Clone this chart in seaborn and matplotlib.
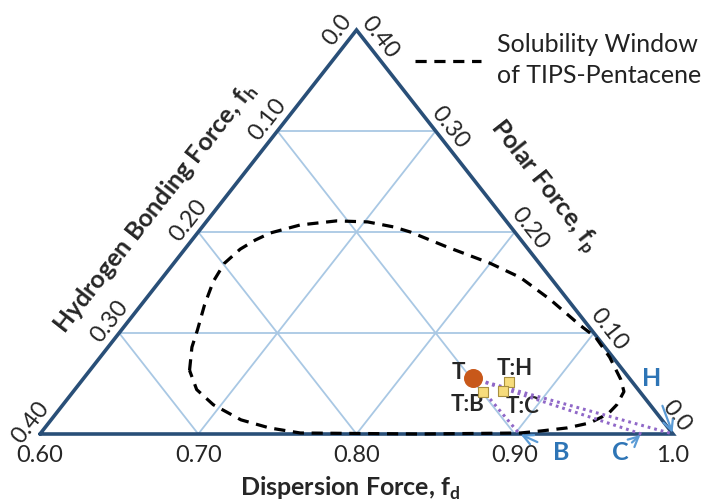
import numpy as np
import pandas as pd
import matplotlib.pyplot as plt
import seaborn as sns
from matplotlib.lines import Line2D

sns.set_theme(style="white")
plt.rcParams['font.family'] = ['Lato', 'DejaVu Sans']
plt.rcParams['mathtext.fontset'] = 'custom'
plt.rcParams['mathtext.rm'] = 'Lato'
plt.rcParams['mathtext.bf'] = 'Lato:bold'

# solubility window of TIPS-pentacene (fd, fp)
window_fd = [0.663, 0.653, 0.648, 0.640, 0.634, 0.632, 0.635, 0.640, 0.646, 0.661,
             0.682, 0.702, 0.721, 0.734, 0.765, 0.800, 0.826, 0.856, 0.887, 0.903,
             0.922, 0.940, 0.948, 0.950, 0.949, 0.942, 0.930, 0.915, 0.903, 0.840,
             0.764, 0.742, 0.720, 0.695, 0.677]
window_fp = [0.063, 0.086, 0.103, 0.128, 0.151, 0.169, 0.183, 0.192, 0.199, 0.207,
             0.211, 0.210, 0.205, 0.200, 0.185, 0.169, 0.155, 0.133, 0.108, 0.096,
             0.076, 0.054, 0.042, 0.029, 0.020, 0.011, 0.006, 0.003, 0.001, 0.000,
             0.001, 0.006, 0.014, 0.029, 0.044]

# tetralin (T)
t_fd, t_fp = 0.846, 0.055
# blends
blend_names = ["T:H", "T:C", "T:B"]
blend_fd = [0.871, 0.871, 0.859]
blend_fp = [0.051, 0.043, 0.042]
# second solvents
solvent_names = ["H", "C", "B"]
solvent_fd = [1.0, 0.98, 0.903]
solvent_fp = [0.0, 0.0, 0.0]

grid_vals = [0.1, 0.2, 0.3]
fd_ticks = ["0.60", "0.70", "0.80", "0.90", "1.0"]
fh_ticks = ["0.0", "0.10", "0.20", "0.30", "0.40"]
fp_ticks = ["0.40", "0.30", "0.20", "0.10", "0.0"]

edge_color = "#294f78"
grid_color = "#a9c8e4"
arrow_color = "#5b9bd5"
label_blue = "#2e75b6"


def to_xy(fd, fp):
    fd = np.asarray(fd, dtype=float)
    fp = np.asarray(fp, dtype=float)
    return (fd - 0.6) / 0.4 + 0.5 * fp / 0.4, fp / 0.4


fig = plt.figure(figsize=(7.01, 5.03), dpi=100)
ax = fig.add_axes([40 / 701, 69 / 503, 633 / 701, 404 / 503])
ax.set_xlim(0, 1)
ax.set_ylim(0, 1)
ax.axis('off')

# grid lines
for g in grid_vals:
    # constant fp
    x, y = to_xy([0.6, 1 - g], [g, g])
    ax.plot(x, y, color=grid_color, lw=1.3, zorder=1)
    # constant fd
    fd = 0.6 + g
    x, y = to_xy([fd, fd], [0, 1 - fd])
    ax.plot(x, y, color=grid_color, lw=1.3, zorder=1)
    # constant fh
    x, y = to_xy([1 - g, 0.6], [0, 0.4 - g])
    ax.plot(x, y, color=grid_color, lw=1.3, zorder=1)

# triangle outline
x, y = to_xy([0.6, 1.0, 0.6, 0.6], [0.0, 0.0, 0.4, 0.0])
ax.plot(x, y, color=edge_color, lw=2.6, solid_joinstyle='miter', clip_on=False, zorder=2)

# solubility window
wx, wy = to_xy(window_fd + window_fd[:1], window_fp + window_fp[:1])
sns.lineplot(x=wx, y=wy, sort=False, estimator=None, color='black', lw=2.3,
             linestyle=(0, (3.5, 2.4)), ax=ax, clip_on=False, zorder=3)

# tie lines tetralin -> solvents
tx, ty = to_xy(t_fd, t_fp)
for fd, fp in zip(solvent_fd, solvent_fp):
    sx, sy = to_xy(fd, fp)
    ax.plot([tx, sx], [ty, sy], color="#9068c8", lw=2.2, linestyle=(0, (0.9, 1.3)),
            clip_on=False, zorder=4)

bx, by = to_xy(blend_fd, blend_fp)
sns.scatterplot(x=bx, y=by, marker='s', s=60, color="#f6dc7c", edgecolor="#a89040",
                linewidth=0.8, ax=ax, zorder=5)
sns.scatterplot(x=[float(tx)], y=[float(ty)], marker='o', s=160, color="#c8581a",
                edgecolor="#c8581a", ax=ax, zorder=6)

ax.annotate("T", (tx, ty), xytext=(-14, 6), textcoords='offset pixels',
            ha='center', va='center', fontsize=16, fontweight='bold')
blend_offsets = [(5, 14), (20, -16), (-16, -13)]
for name, x, y, off in zip(blend_names, bx, by, blend_offsets):
    ax.annotate(name, (x, y), xytext=off, textcoords='offset pixels',
                ha='center', va='center', fontsize=16, fontweight='bold')

# solvent arrows
solvent_offsets = [(-21, 56), (-21, -19), (42, -19)]
for name, fd, fp, off in zip(solvent_names, solvent_fd, solvent_fp, solvent_offsets):
    sx, sy = to_xy(fd, fp)
    ax.annotate(name, (sx, sy), xytext=off, textcoords='offset pixels',
                ha='center', va='center', fontsize=18, fontweight='bold', color=label_blue,
                arrowprops=dict(arrowstyle='->', color=arrow_color, lw=1.6,
                                shrinkA=10, shrinkB=1),
                zorder=7)

# tick labels
left_dir = np.array([0.618, 0.786])
left_out = np.array([-0.786, 0.618])
right_dir = np.array([0.618, -0.786])
right_out = np.array([0.786, 0.618])

for i, lab in enumerate(fd_ticks):
    fd = 0.6 + 0.1 * i
    x, y = to_xy(fd, 0)
    ax.annotate(lab, (x, y), xytext=(0, -22), textcoords='offset pixels',
                ha='center', va='center', fontsize=17)

for i, lab in enumerate(fh_ticks):
    fh = 0.1 * i
    x, y = to_xy(0.6, 0.4 - fh)
    along = -12 if i == 0 else 3
    off = 15 * left_out + along * left_dir
    ax.annotate(lab, (x, y), xytext=tuple(off), textcoords='offset pixels',
                ha='center', va='center', fontsize=17, rotation=51.9,
                rotation_mode='anchor')

for i, lab in enumerate(fp_ticks):
    fp = 0.4 - 0.1 * i
    x, y = to_xy(1 - fp, fp)
    along = 20 if i == 0 else (-12 if i == 4 else 6)
    off = 14 * right_out + along * right_dir
    ax.annotate(lab, (x, y), xytext=tuple(off), textcoords='offset pixels',
                ha='center', va='center', fontsize=17, rotation=-51.9,
                rotation_mode='anchor')

# axis titles
ax.annotate("Dispersion Force, f$_\\mathbf{d}$", (0.49, 0), xytext=(0, -54),
            textcoords='offset pixels', ha='center', va='center',
            fontsize=18, fontweight='bold')
x, y = to_xy(0.6, 0.2)
off = 48 * left_out - 8 * left_dir
ax.annotate("Hydrogen Bonding Force, f$_\\mathbf{h}$", (x, y), xytext=tuple(off),
            textcoords='offset pixels', ha='center', va='center',
            fontsize=18, fontweight='bold', rotation=51.9, rotation_mode='anchor')
x, y = to_xy(0.8, 0.2)
off = 50 * right_out - 18 * right_dir
ax.annotate("Polar Force, f$_\\mathbf{p}$", (x, y), xytext=tuple(off),
            textcoords='offset pixels', ha='center', va='center',
            fontsize=18, fontweight='bold', rotation=-51.9, rotation_mode='anchor')

# legend
fig.add_artist(Line2D([415 / 701, 481 / 701], [1 - 61 / 503, 1 - 61 / 503],
                      transform=fig.transFigure, color='black', lw=2.3,
                      linestyle=(0, (3.5, 2.4))))
fig.text(497 / 701, 1 - 45 / 503, "Solubility Window", ha='left', va='center', fontsize=18,
         color='#222222')
fig.text(497 / 701, 1 - 76 / 503, "of TIPS-Pentacene", ha='left', va='center', fontsize=18,
         color='#222222')

fig.savefig("out.png", dpi=100)
